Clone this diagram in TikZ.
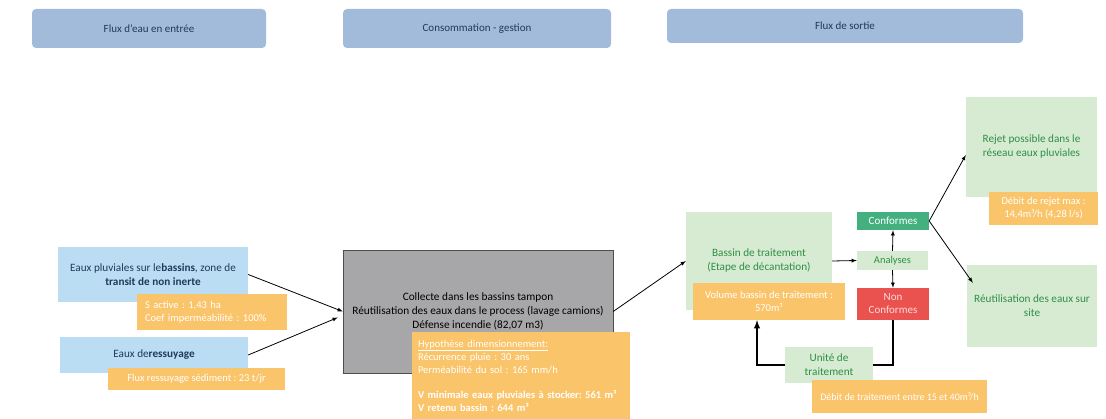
\documentclass[tikz,border=0pt]{standalone}
\usepackage{fontspec}
\setmainfont{Carlito}
\usepackage{xcolor}
\definecolor{hdrblue}{HTML}{A3BBDB}
\definecolor{paleblue}{HTML}{BADDF3}
\definecolor{navy}{HTML}{1F3A5A}
\definecolor{paleorange}{HTML}{FAC46A}
\definecolor{palegreen}{HTML}{D6EBD2}
\definecolor{darkgreen}{HTML}{2F8F46}
\definecolor{tealgreen}{HTML}{45B07F}
\definecolor{alertred}{HTML}{E9524E}
\definecolor{midgray}{HTML}{A7A7A9}
\frenchspacing

\begin{document}
\begin{tikzpicture}[x=1pt, y=-1pt,
  hdr/.style={fill=hdrblue, rounded corners=4pt, text=navy, font=\fontsize{11}{13}\selectfont, inner sep=0pt},
  bluebox/.style={fill=paleblue, text=navy, align=center, font=\fontsize{11.2}{14}\selectfont, inner sep=0pt},
  orangebox/.style={fill=paleorange, text=white, font=\fontsize{10.5}{13}\selectfont, inner sep=0pt},
  greenbox/.style={fill=palegreen, text=darkgreen, align=center, font=\fontsize{11.2}{14}\selectfont, inner sep=0pt},
  flow/.style={-latex, thick},
  loop/.style={line width=1.8pt}]
\useasboundingbox (0,0) rectangle (1106,419);

\node[hdr, minimum width=234, minimum height=39] (h1) at (149, 28.5) {Flux d’eau en entrée};
\node[hdr, minimum width=268, minimum height=39] (h2) at (477, 28.5) {Consommation - gestion};
\node[hdr, minimum width=356, minimum height=34] (h3) at (845, 26) {Flux de sortie};

\node[bluebox, minimum width=190, minimum height=55] (pluv) at (153, 274.5) {Eaux pluviales sur le\textbf{bassins}, zone de\\\textbf{transit de non inerte}};
\node[bluebox, minimum width=188, minimum height=36] (ressuy) at (154, 355) {Eaux de\textbf{ressuyage}};
\node[fill=midgray, draw=gray!60!black, align=center, font=\fontsize{11.3}{14}\selectfont, minimum width=270, minimum height=123, inner sep=0pt] (collecte) at (478, 311.5) {Collecte dans les bassins tampon\\Réutilisation des eaux dans le process (lavage camions)\\Défense incendie (82,07 m3)};

\draw[flow] (pluv.east) -- (collecte.west);
\draw[flow] (ressuy.east) -- ([xshift=-5pt, yshift=-6pt]collecte.west);

\node[orangebox, minimum width=150, minimum height=36, text width=134, align=left] (pluvdata) at (212, 312) {S active : 1,43 ha\\Coef imperméabilité : 100\%};
\node[orangebox, minimum width=177, minimum height=22] (ressuydata) at (196.5, 379) {Flux ressuyage sédiment : 23 t/jr};
\node[orangebox, minimum width=218, minimum height=87, text width=206, align=left] (hypo) at (521, 375.5) {\underline{Hypothèse dimensionnement:}\\Récurrence pluie : 30 ans\\Perméabilité du sol : 165 mm/h\\[12pt]\textbf{V minimale eaux pluviales à stocker: 561 m³}\\\textbf{V retenu bassin : 644 m³}};

\node[greenbox, minimum width=146, minimum height=98] (bassin) at (759, 261) {Bassin de traitement\\(Etape de décantation)};
\node[greenbox, minimum width=71, minimum height=19, font=\fontsize{10.5}{12}\selectfont] (analyses) at (892.5, 260.5) {Analyses};
\node[fill=tealgreen, text=white, minimum width=72, minimum height=18, inner sep=0pt, font=\fontsize{11}{12}\selectfont] (conf) at (893, 221) {Conformes};
\node[fill=alertred, text=red!15, align=center, minimum width=72, minimum height=32, inner sep=0pt, font=\fontsize{11}{13}\selectfont] (nonconf) at (893, 304) {Non\\Conformes};
\node[greenbox, minimum width=88, minimum height=36] (unite) at (829, 365) {Unité de\\traitement};
\node[greenbox, minimum width=131, minimum height=100] (rejet) at (1031.5, 147) {Rejet possible dans le\\réseau eaux pluviales};
\node[greenbox, minimum width=130, minimum height=82] (reutil) at (1032, 306) {Réutilisation des eaux sur\\site};

\draw[flow] (collecte.east) -- (bassin.west);
\draw[flow] (bassin.east) -- (analyses.west);
\draw[flow] (analyses.north) -- (conf.south);
\draw[flow] (analyses.south) -- (nonconf.north);
\draw[flow] (conf.east) -- ([yshift=-8pt]rejet.west);
\draw[flow] (conf.east) -- ([xshift=6pt, yshift=-18pt]reutil.north west);
\draw[loop] (nonconf.south) |- (unite.east);

\node[orangebox, minimum width=152, minimum height=37, align=center] (volume) at (769, 301.5) {Volume bassin de traitement :\\570m³};
\node[orangebox, minimum width=175, minimum height=33, font=\fontsize{10}{12}\selectfont] (debtrait) at (899.5, 396.5) {Débit de traitement entre 15 et 40m³/h};
\node[orangebox, minimum width=109, minimum height=33, align=center] (debrejet) at (1043.5, 208.5) {Débit de rejet max :\\14,4m³/h (4,28 l/s)};

\draw[loop, -latex] (unite.west) -| ([xshift=-12pt]volume.south);
\end{tikzpicture}
\end{document}
